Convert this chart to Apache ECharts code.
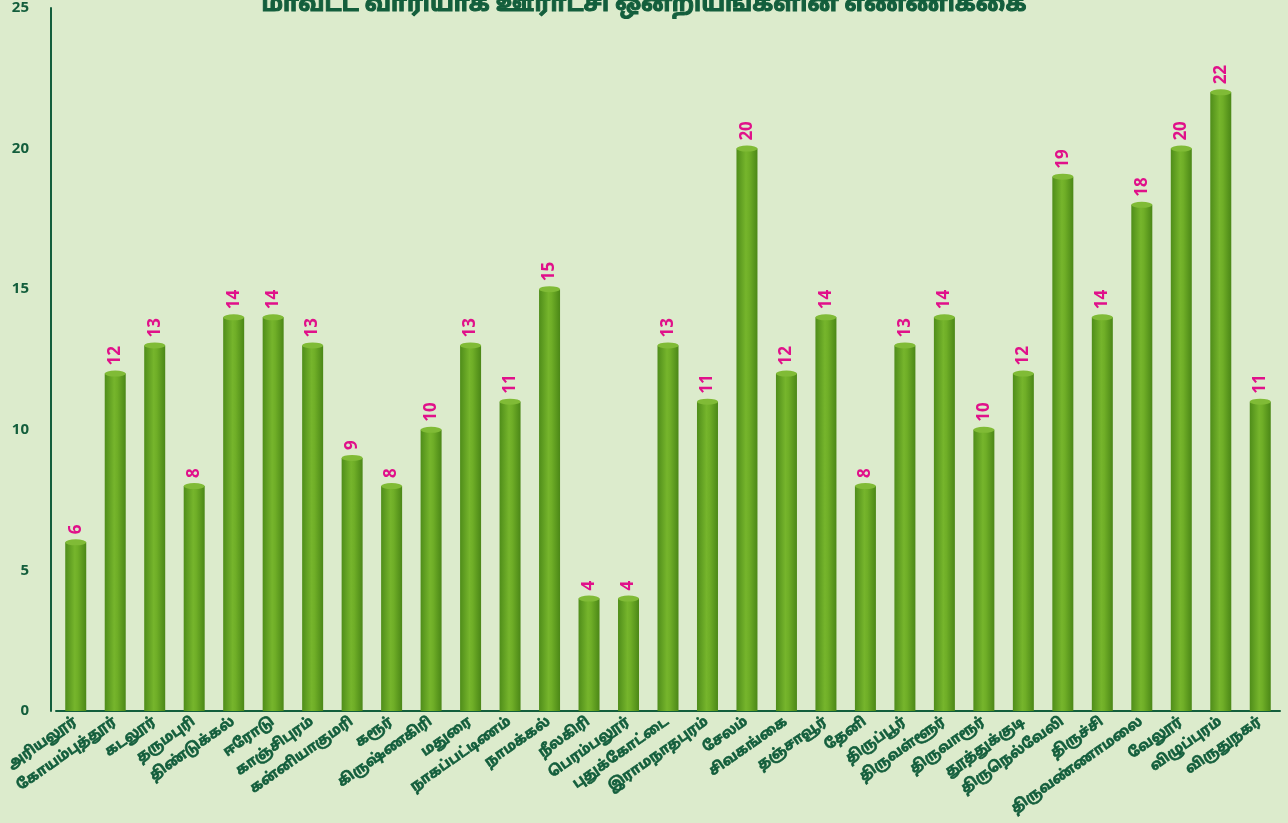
<!DOCTYPE html>
<html>
<head>
<meta charset="utf-8">
<script src="https://cdn.jsdelivr.net/npm/echarts@6/dist/echarts.min.js"></script>
<style>
  html, body { margin: 0; padding: 0; background: #dcebcc; }
  #main { width: 1288px; height: 823px; }
</style>
</head>
<body>
<div id="main"></div>
<script>
var districts = ['அரியலூர்', 'கோயம்புத்தூர்', 'கடலூர்', 'தருமபுரி', 'திண்டுக்கல்', 'ஈரோடு',
    'காஞ்சிபுரம்', 'கன்னியாகுமரி', 'கரூர்', 'கிருஷ்ணகிரி', 'மதுரை', 'நாகப்பட்டிணம்',
    'நாமக்கல்', 'நீலகிரி', 'பெரம்பலூர்', 'புதுக்கோட்டை', 'இராமநாதபுரம்', 'சேலம்',
    'சிவகங்கை', 'தஞ்சாவூர்', 'தேனி', 'திருப்பூர்', 'திருவள்ளூர்', 'திருவாரூர்',
    'தூத்துக்குடி', 'திருநெல்வேலி', 'திருச்சி', 'திருவண்ணாமலை', 'வேலூர்', 'விழுப்புரம்', 'விருதுநகர்'];
var unions = [6, 12, 13, 8, 14, 14, 13, 9, 8, 10, 13, 11, 15, 4, 4, 13, 11, 20,
    12, 14, 8, 13, 14, 10, 12, 19, 14, 18, 20, 22, 11];
var yTicks = [0, 5, 10, 15, 20, 25];

var darkGreen = '#135e3c';
var myChart = echarts.init(document.getElementById('main'));

myChart.setOption({
    backgroundColor: '#dcebcc',
    title: {
        text: 'மாவட்ட வாரியாக ஊராட்சி ஒன்றியங்களின் எண்ணிக்கை',
        left: 'center',
        top: -10,
        textStyle: {
            color: darkGreen, fontSize: 23, fontWeight: 'bold', fontFamily: 'Noto Sans Tamil, Noto Sans',
            textBorderColor: darkGreen, textBorderWidth: 1
        }
    },
    grid: { left: 56, right: 8, top: 8, bottom: 112, containLabel: false, outerBoundsMode: 'none' },
    xAxis: {
        type: 'category',
        data: districts,
        axisLine: { lineStyle: { color: darkGreen, width: 2 } },
        axisTick: { show: false },
        axisLabel: {
            interval: 0,
            rotate: 35,
            margin: 10,
            color: darkGreen,
            fontSize: 14,
            fontWeight: 'bold',
            fontFamily: 'Noto Sans Tamil, Noto Sans',
            textBorderColor: darkGreen,
            textBorderWidth: 0.6
        }
    },
    yAxis: {
        type: 'value',
        min: yTicks[0],
        max: yTicks[yTicks.length - 1],
        interval: 5,
        offset: 5,
        axisLine: { show: true, lineStyle: { color: darkGreen, width: 2 } },
        axisTick: { show: false },
        splitLine: { show: false },
        axisLabel: { margin: 22, color: darkGreen, fontSize: 15, fontWeight: 'bold', fontFamily: 'Noto Sans' }
    },
    series: [
        {
            type: 'bar',
            data: unions,
            barWidth: 21,
            itemStyle: {
                color: new echarts.graphic.LinearGradient(0, 0, 1, 0, [
                    { offset: 0, color: '#4f8d1a' },
                    { offset: 0.45, color: '#76b52c' },
                    { offset: 0.6, color: '#6fae27' },
                    { offset: 1, color: '#4b8717' }
                ])
            },
            label: {
                show: true,
                position: 'top',
                distance: 8,
                rotate: 90,
                align: 'left',
                verticalAlign: 'middle',
                color: '#e0118a',
                fontSize: 17,
                fontWeight: 'bold',
                fontFamily: 'Noto Sans'
            },
            z: 2
        },
        {
            type: 'pictorialBar',
            data: unions,
            symbol: 'circle',
            symbolSize: [21, 6],
            symbolPosition: 'end',
            symbolOffset: [0, '-50%'],
            itemStyle: { color: '#80bb36' },
            z: 3
        }
    ]
});
</script>
</body>
</html>
